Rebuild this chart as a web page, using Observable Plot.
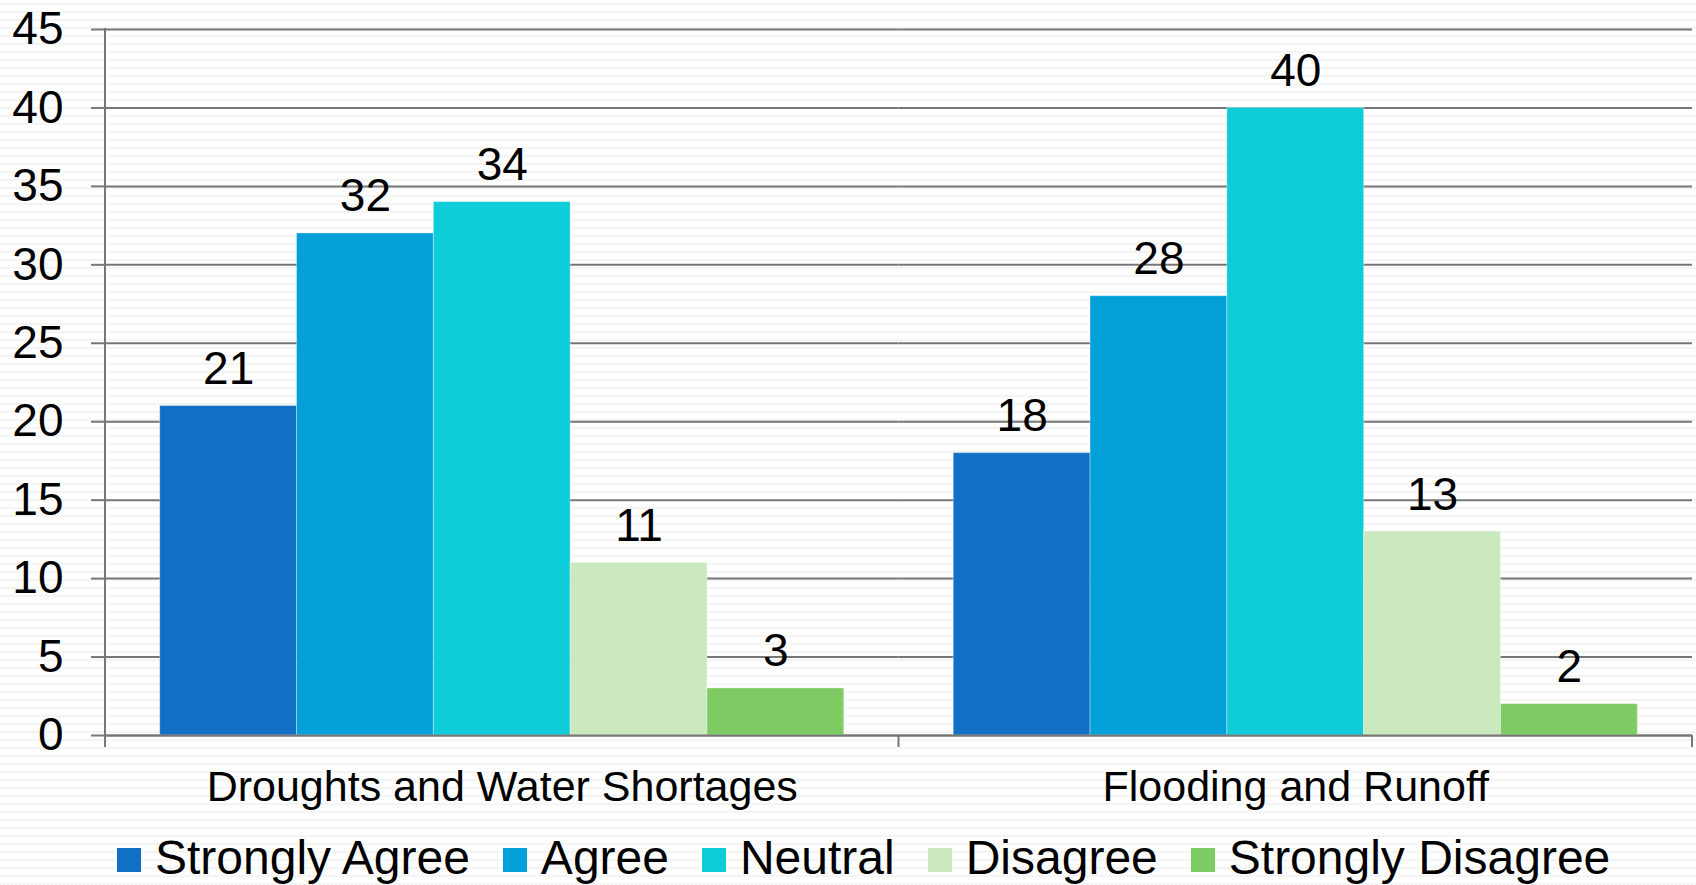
<!DOCTYPE html>
<html>
<head>
<meta charset="utf-8">
<script src="https://cdn.jsdelivr.net/npm/d3@7"></script>
<script src="https://cdn.jsdelivr.net/npm/@observablehq/plot@0.6"></script>
<style>
  html, body { margin: 0; padding: 0; }
  body {
    width: 1696px; height: 885px; overflow: hidden;
    background-color: #ffffff;
    background-image: url("data:image/svg+xml;utf8,<svg xmlns='http://www.w3.org/2000/svg' width='8' height='8'><path d='M0 5 L2 3 L4 5 L6 3 L8 5' fill='none' stroke='%23ededed' stroke-width='1'/></svg>");
    font-family: "Liberation Sans", Arial, sans-serif;
  }
  #legend {
    display: flex; align-items: flex-start;
    margin-left: 117px; height: 51px;
    font-size: 48px; line-height: 48px; color: #000;
    white-space: nowrap;
  }
  .item { display: flex; align-items: flex-start; margin-right: 33px; }
  .sw { width: 24px; height: 24px; margin-top: 14px; margin-right: 14px; }
</style>
</head>
<body>
<div id="chart"></div>
<div id="legend"></div>
<script>
const categories = ["Droughts and Water Shortages", "Flooding and Runoff"];
const responses = ["Strongly Agree", "Agree", "Neutral", "Disagree", "Strongly Disagree"];
const droughtValues = [21, 32, 34, 11, 3];
const floodingValues = [18, 28, 40, 13, 2];
const colors = ["#1170c4", "#039fd8", "#0fcdd8", "#cbe9be", "#7dcb62"];
const yTicks = [0, 5, 10, 15, 20, 25, 30, 35, 40, 45];

const seriesByCategory = [droughtValues, floodingValues];
const rows = categories.flatMap((c, i) =>
  responses.map((r, j) => ({category: c, response: r, value: seriesByCategory[i][j]}))
);

const axisColor = "#777";

const plot = Plot.plot({
  width: 1696,
  height: 834,
  marginLeft: 105,
  marginRight: 4,
  marginTop: 29,
  marginBottom: 99,
  style: {fontFamily: "'Liberation Sans', Arial, sans-serif", background: "transparent", overflow: "visible", color: "#000"},
  fx: {domain: categories, padding: 0, round: false, label: null},
  x: {domain: responses, paddingInner: 0, paddingOuter: 0.4, round: false, axis: null},
  y: {domain: [0, 45], label: null},
  color: {domain: responses, range: colors},
  marks: [
    Plot.gridY(yTicks, {stroke: axisColor, strokeOpacity: 1, strokeWidth: 2}),
    Plot.barY(rows, {fx: "category", x: "response", y: "value", fill: "response", stroke: "#ffffff", strokeOpacity: 0.35, strokeWidth: 1}),
    Plot.ruleY([0], {stroke: axisColor, strokeWidth: 2}),
    Plot.axisY(yTicks, {tickSize: 14, tickPadding: 28, fontSize: 46, stroke: axisColor, strokeWidth: 2, fill: "#000", label: null}),
    Plot.axisFx({anchor: "bottom", tickSize: 0, tickPadding: 35, fontSize: 43, fill: "#000", label: null}),
    Plot.text(rows, {fx: "category", x: "response", y: "value", text: d => String(d.value), lineAnchor: "bottom", dy: -22, fontSize: 46, fill: "#000"})
  ]
});

document.getElementById("chart").appendChild(plot);

// Axis line and category separator ticks, positioned through Plot's own scales
const fxs = plot.scale("fx");
const ys = plot.scale("y");
const y0 = ys.apply(0);
const yTop = ys.apply(45);
const svg = d3.select(plot);
const g = svg.append("g").attr("stroke", axisColor).attr("stroke-width", 2);
const left = fxs.apply(categories[0]);
g.append("line").attr("x1", left).attr("x2", left).attr("y1", yTop - 1).attr("y2", y0 + 12);
const bounds = categories.map(c => fxs.apply(c)).concat([fxs.apply(categories[categories.length - 1]) + fxs.bandwidth]);
bounds.slice(1).forEach(b => {
  g.append("line").attr("x1", b).attr("x2", b).attr("y1", y0).attr("y2", y0 + 12);
});

// Legend
const legend = d3.select("#legend");
responses.forEach((r, i) => {
  const item = legend.append("div").attr("class", "item");
  item.append("div").attr("class", "sw").style("background", colors[i]);
  item.append("span").text(r);
});
</script>
</body>
</html>
